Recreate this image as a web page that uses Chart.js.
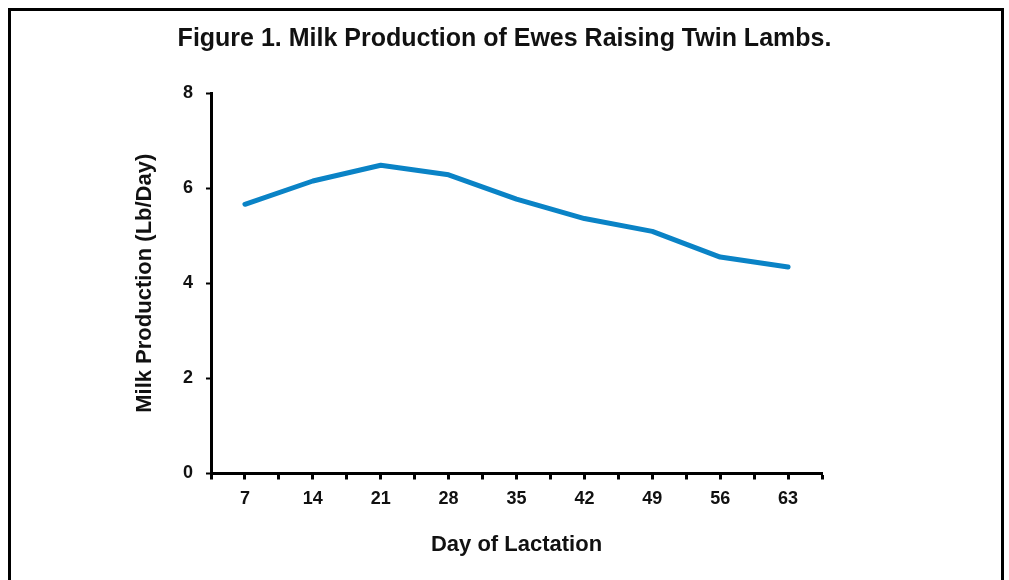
<!DOCTYPE html>
<html>
<head>
<meta charset="utf-8">
<script src="https://cdn.jsdelivr.net/npm/chart.js@4.4.1/dist/chart.umd.min.js"></script>
<style>
  html, body { margin: 0; padding: 0; background: #fff; overflow: hidden; }
  #wrap { position: relative; width: 1009px; height: 580px; }
  #frame {
    position: absolute; left: 8px; top: 8px; width: 990px; height: 600px;
    border: 3px solid #000; pointer-events: none;
  }
  canvas { position: absolute; left: 0; top: 0; }
</style>
</head>
<body>
<div id="wrap">
  <canvas id="chart" width="1009" height="580"></canvas>
  <div id="frame"></div>
</div>
<script>
// Day of lactation (weekly) and average daily milk yield, lb/day
const days = [7, 14, 21, 28, 35, 42, 49, 56, 63];
const milkLbPerDay = [5.66, 6.15, 6.48, 6.28, 5.77, 5.36, 5.09, 4.55, 4.34];
const yTicks = [0, 2, 4, 6, 8];

const titleText = 'Figure 1. Milk Production of Ewes Raising Twin Lambs.';
const xTitle = 'Day of Lactation';
const yTitle = 'Milk Production (Lb/Day)';

const points = days.map((d, i) => ({ x: d, y: milkLbPerDay[i] }));
const halfStep = (days[1] - days[0]) / 2;

const FONT = "'Liberation Sans', Arial, sans-serif";

new Chart(document.getElementById('chart'), {
  type: 'line',
  data: {
    datasets: [{
      data: points,
      borderColor: '#0a83c6',
      borderWidth: 5,
      borderCapStyle: 'round',
      borderJoinStyle: 'round',
      tension: 0,
      pointRadius: 0,
      fill: false
    }]
  },
  options: {
    responsive: false,
    animation: false,
    layout: { padding: 0 },
    plugins: {
      legend: { display: false },
      tooltip: { enabled: false },
      title: {
        display: true,
        text: titleText,
        color: '#111',
        font: { family: FONT, size: 25, weight: 'bold', lineHeight: 1.2 },
        padding: { top: 24, bottom: 39 }
      }
    },
    scales: {
      x: {
        type: 'linear',
        min: days[0] - halfStep,
        max: days[days.length - 1] + halfStep,
        afterBuildTicks(scale) {
          // tick marks at every category centre and every boundary between them
          const t = [];
          for (let i = 0; i < days.length; i++) {
            t.push({ value: days[i] - halfStep });
            t.push({ value: days[i] });
          }
          t.push({ value: days[days.length - 1] + halfStep });
          scale.ticks = t;
        },
        afterFit(scale) { scale.height = 106.5; },
        border: { display: true, color: '#000', width: 3 },
        grid: {
          drawOnChartArea: false,
          drawTicks: true,
          tickLength: 6,
          tickWidth: 3,
          tickColor: '#000'
        },
        ticks: {
          autoSkip: false,
          maxRotation: 0,
          padding: 9,
          color: '#111',
          font: { family: FONT, size: 18, weight: 'bold' },
          callback: (v) => (days.includes(v) ? String(v) : '')
        },
        title: {
          display: true,
          text: xTitle,
          color: '#111',
          font: { family: FONT, size: 22, weight: 'bold', lineHeight: 1.2 },
          padding: { top: 0, bottom: 22 }
        }
      },
      y: {
        type: 'linear',
        min: yTicks[0],
        max: yTicks[yTicks.length - 1],
        afterBuildTicks(scale) { scale.ticks = yTicks.map(v => ({ value: v })); },
        afterFit(scale) { scale.width = 211; },
        border: { display: true, color: '#000', width: 3 },
        grid: {
          drawOnChartArea: false,
          drawTicks: true,
          tickLength: 5,
          tickWidth: 2,
          tickColor: '#000'
        },
        ticks: {
          padding: 13,
          color: '#111',
          font: { family: FONT, size: 18, weight: 'bold' }
        },
        title: {
          display: true,
          text: yTitle,
          color: '#111',
          font: { family: FONT, size: 22, weight: 'bold', lineHeight: 1.2 },
          padding: { top: 132, bottom: 0 }
        }
      },
      // empty right-hand axis reserving the space to the right of the plot
      yRight: {
        position: 'right',
        display: true,
        border: { display: false },
        grid: { display: false },
        ticks: { display: false },
        afterFit(scale) { scale.width = 187; }
      }
    }
  }
});
</script>
</body>
</html>
